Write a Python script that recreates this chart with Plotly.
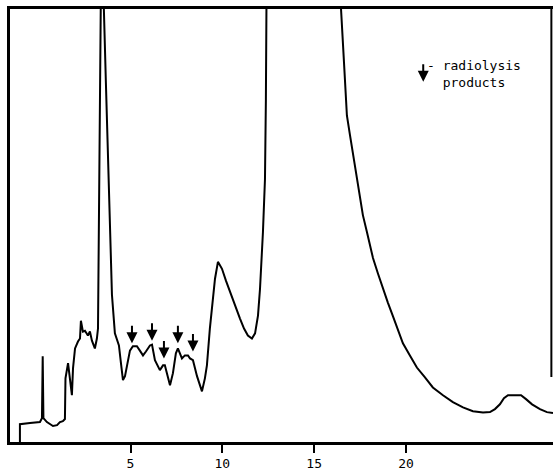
import plotly.graph_objects as go

# Chromatogram trace (retention time in min, detector signal in % of full scale)
time_min = [-1.02, -1.02, -0.47, 0.07, 0.18, 0.22, 0.26, 0.45, 0.78, 1.00, 1.16, 1.32, 1.43, 1.46, 1.60,
            1.70, 1.81, 1.87, 1.98, 2.14, 2.25, 2.30, 2.41, 2.52, 2.68, 2.79, 2.90, 3.06, 3.17, 3.23,
            3.28, 3.38, 3.46, 3.55, 3.66, 3.80, 3.99, 4.15, 4.37, 4.48, 4.59, 4.70, 4.86, 4.97, 5.13,
            5.35, 5.51, 5.68, 5.84, 6.06, 6.17, 6.33, 6.60, 6.77, 6.87, 7.04, 7.15, 7.31, 7.47, 7.58,
            7.69, 7.80, 7.96, 8.13, 8.24, 8.40, 8.62, 8.89, 9.05, 9.16, 9.32, 9.43, 9.60, 9.76, 9.98,
            10.20, 10.41, 10.69, 10.96, 11.18, 11.39, 11.61, 11.78, 11.94, 12.05, 12.21, 12.32, 12.37,
            12.40, 14.40, 16.46, 16.62, 16.78, 16.95, 17.11, 17.33, 17.49, 17.65, 17.87, 18.03, 18.20,
            18.47, 18.74, 19.01, 19.29, 19.56, 19.83, 20.21, 20.59, 21.03, 21.46, 22.01, 22.55, 23.10,
            23.64, 24.19, 24.57, 24.84, 25.11, 25.33, 25.55, 25.93, 26.26, 26.53, 26.86, 27.29, 27.67,
            28.00]
signal = [0.0, 4.1, 4.4, 4.6, 5.5, 19.8, 5.5, 4.6, 3.7, 3.9, 4.6, 4.8, 5.3, 14.7, 18.2,
          14.7, 10.8, 17.0, 21.6, 23.2, 23.9, 28.0, 25.5, 25.7, 24.6, 25.5, 23.4, 21.6, 23.9, 26.2,
          56.1, 100.0, 220.0, 100.0, 83.0, 63.0, 34.0, 25.1, 22.3, 18.2, 14.3, 15.2, 19.3, 21.1, 22.1,
          22.1, 21.1, 20.0, 20.9, 22.3, 22.5, 18.9, 16.6, 17.7, 17.7, 14.7, 13.1, 15.9, 20.5, 21.6,
          20.5, 19.3, 20.0, 20.0, 19.3, 18.9, 15.2, 11.7, 14.7, 17.7, 26.2, 30.8, 37.7, 41.6, 40.0,
          37.2, 34.7, 31.3, 28.5, 26.2, 24.6, 23.9, 25.1, 29.2, 35.4, 48.5, 60.7, 79.1,
          100.0, 400.0, 100.0, 87.8, 75.4, 70.8, 66.7, 61.4, 56.6, 52.4, 48.5, 45.5, 42.5,
          38.9, 35.4, 32.2, 29.0, 25.7, 22.8, 20.0, 17.2, 14.9, 12.6, 10.8, 9.2, 8.0,
          7.1, 6.8, 6.9, 7.6, 8.7, 10.1, 10.8, 10.8, 10.8, 9.9, 8.7, 7.6, 6.9,
          6.7]

# Radiolysis product markers (arrow tip positions)
arrow_times = [5.08, 6.17, 6.82, 7.58, 8.40]
arrow_heights = [22.8, 23.4, 19.3, 22.8, 20.9]

tick_values = [5, 10, 15, 20]
tick_labels = ["5", "10", "15", "20"]

legend_text = "- radiolysis<br>\u00a0\u00a0products"

FONT = "DejaVu Sans Mono"

fig = go.Figure()
fig.add_trace(go.Scatter(x=time_min, y=signal, mode="lines",
                         line=dict(color="black", width=2), hoverinfo="skip"))

for t, h in zip(arrow_times, arrow_heights):
    fig.add_annotation(x=t, y=h, xref="x", yref="y", text="", showarrow=True,
                       ax=0, ay=-19, arrowhead=2, arrowsize=1.1, arrowwidth=2,
                       arrowcolor="black")

# legend key
fig.add_annotation(x=0.761, y=0.832, xref="paper", yref="paper", text="", showarrow=True,
                   ax=0, ay=-19, arrowhead=2, arrowsize=1.1,
                   arrowwidth=2, arrowcolor="black")
fig.add_annotation(x=0.764, y=0.849, xref="paper", yref="paper", text=legend_text,
                   showarrow=False, xanchor="left", yanchor="middle", align="left",
                   font=dict(family=FONT, size=13, color="black"))

# partial right frame line
fig.add_shape(type="line", xref="paper", yref="paper", x0=0.997, x1=0.997, y0=0.15, y1=1.0,
              line=dict(color="black", width=2))

fig.update_layout(
    width=553, height=471,
    margin=dict(l=10, r=0, t=9, b=27),
    paper_bgcolor="white", plot_bgcolor="white",
    showlegend=False,
    xaxis=dict(range=[-1.56, 28.0], showgrid=False, zeroline=False,
               showline=True, linecolor="black", linewidth=2.5, mirror=True,
               tickvals=tick_values, ticktext=tick_labels, ticks="outside",
               ticklen=8, tickwidth=2, tickcolor="black",
               tickfont=dict(family=FONT, size=13, color="black")),
    yaxis=dict(range=[0, 100], showgrid=False, zeroline=False,
               showline=True, linecolor="black", linewidth=2.5,
               showticklabels=False, ticks=""),
)

fig.write_html("out.html", config={"displayModeBar": False},
               post_script="document.body.style.margin='0px';")
